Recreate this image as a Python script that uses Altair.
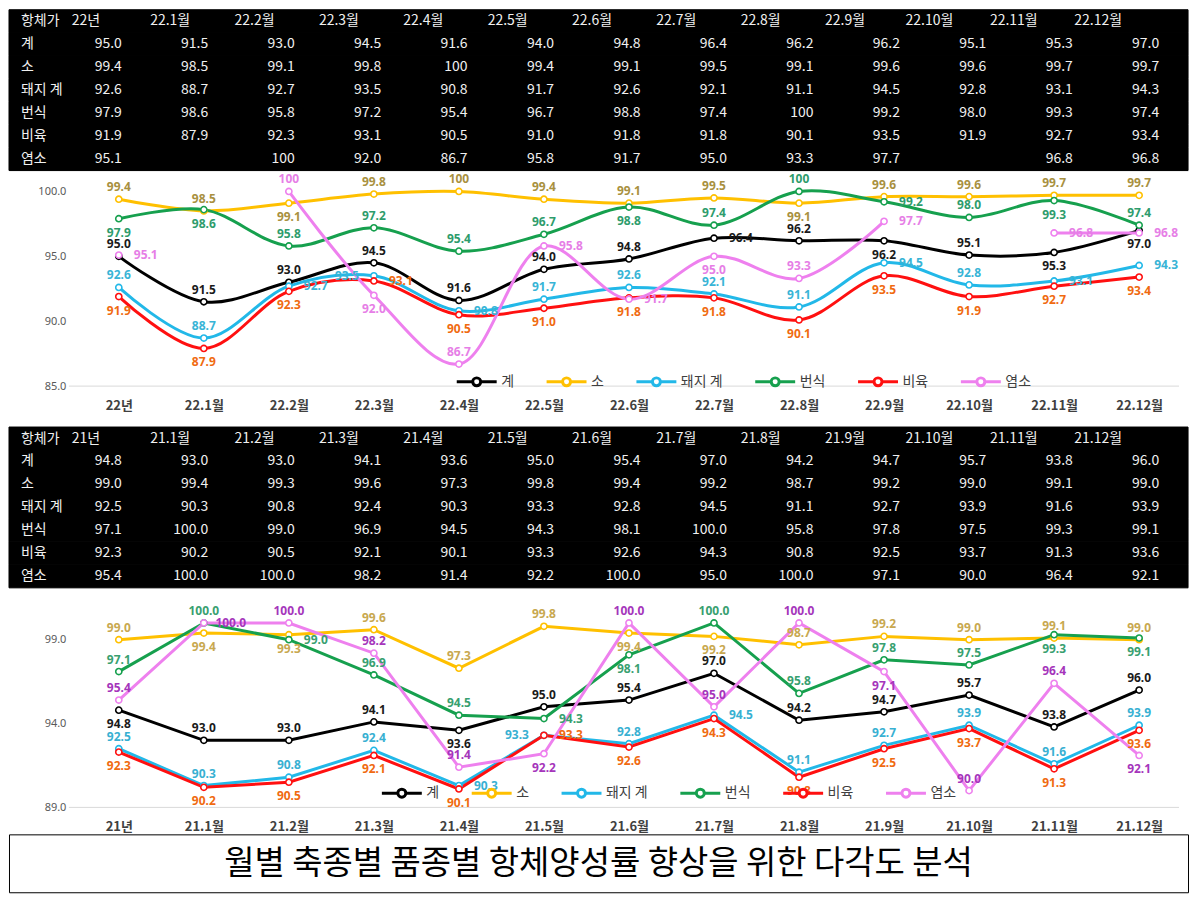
import altair as alt
import pandas as pd

KR = "Noto Sans CJK KR"

HEADER = "항체가"
SERIES = ["계", "소", "돼지 계", "번식", "비육", "염소"]

MONTHS_22 = ["22년", "22.1월", "22.2월", "22.3월", "22.4월", "22.5월", "22.6월",
             "22.7월", "22.8월", "22.9월", "22.10월", "22.11월", "22.12월"]
MONTHS_21 = ["21년", "21.1월", "21.2월", "21.3월", "21.4월", "21.5월", "21.6월",
             "21.7월", "21.8월", "21.9월", "21.10월", "21.11월", "21.12월"]

# 2022
TOTAL_22 = [95.0, 91.5, 93.0, 94.5, 91.6, 94.0, 94.8, 96.4, 96.2, 96.2, 95.1, 95.3, 97.0]
CATTLE_22 = [99.4, 98.5, 99.1, 99.8, 100, 99.4, 99.1, 99.5, 99.1, 99.6, 99.6, 99.7, 99.7]
PIG_22 = [92.6, 88.7, 92.7, 93.5, 90.8, 91.7, 92.6, 92.1, 91.1, 94.5, 92.8, 93.1, 94.3]
BREED_22 = [97.9, 98.6, 95.8, 97.2, 95.4, 96.7, 98.8, 97.4, 100, 99.2, 98.0, 99.3, 97.4]
FATTEN_22 = [91.9, 87.9, 92.3, 93.1, 90.5, 91.0, 91.8, 91.8, 90.1, 93.5, 91.9, 92.7, 93.4]
GOAT_22 = [95.1, None, 100, 92.0, 86.7, 95.8, 91.7, 95.0, 93.3, 97.7, None, 96.8, 96.8]

# 2021
TOTAL_21 = [94.8, 93.0, 93.0, 94.1, 93.6, 95.0, 95.4, 97.0, 94.2, 94.7, 95.7, 93.8, 96.0]
CATTLE_21 = [99.0, 99.4, 99.3, 99.6, 97.3, 99.8, 99.4, 99.2, 98.7, 99.2, 99.0, 99.1, 99.0]
PIG_21 = [92.5, 90.3, 90.8, 92.4, 90.3, 93.3, 92.8, 94.5, 91.1, 92.7, 93.9, 91.6, 93.9]
BREED_21 = [97.1, 100.0, 99.0, 96.9, 94.5, 94.3, 98.1, 100.0, 95.8, 97.8, 97.5, 99.3, 99.1]
FATTEN_21 = [92.3, 90.2, 90.5, 92.1, 90.1, 93.3, 92.6, 94.3, 90.8, 92.5, 93.7, 91.3, 93.6]
GOAT_21 = [95.4, 100.0, 100.0, 98.2, 91.4, 92.2, 100.0, 95.0, 100.0, 97.1, 90.0, 96.4, 92.1]

LINE_COLORS = ["#000000", "#ffc000", "#22b8e8", "#16a04e", "#ff1010", "#ee80ee"]
LABEL_COLORS_22 = ["#1a1a1a", "#a89040", "#38b4d6", "#2e9c6c", "#f06a10", "#e67ee6"]
LABEL_COLORS_21 = ["#1a1a1a", "#c8a850", "#38b0d2", "#38a070", "#f06a10", "#a535bb"]
# label placement: priority order and preferred side of each series
PRIORITY = ["계", "비육", "돼지 계", "소", "번식", "염소"]
PREFER_BELOW = ["비육"]

CAPTION = "월별 축종별 품종별 항체양성률 향상을 위한 다각도 분석"

W = 1181
OFFSETS = {"above": (0, -12), "below": (0, 14), "right": (27, 0), "left": (-27, 0)}


def long_df(months, cols, short100):
    rows = []
    for s, vals in zip(SERIES, cols):
        for i, (m, v) in enumerate(zip(months, vals)):
            if v is None:
                lab = ""
            elif short100 and v == 100:
                lab = "100"
            else:
                lab = f"{v:.1f}"
            rows.append({"series": s, "month": m, "i": i, "v": v, "label": lab})
    return pd.DataFrame(rows)


def place_labels(df, ydom, height):
    """Pick a side for each value label, keeping labels off each other and off markers."""
    d0, d1 = ydom

    def py(v):
        return height * (1 - (v - d0) / (d1 - d0))

    side = pd.Series("above", index=df.index)
    rank = {s: n for n, s in enumerate(PRIORITY)}
    for _, g in df.dropna(subset=["v"]).groupby("month"):
        g = g.assign(rk=g["series"].map(rank)).sort_values("rk")
        placed = []
        marks = {k: py(v) for k, v in g["v"].items()}
        for k, r in g.iterrows():
            p = marks[k]
            order = ["above", "below", "right", "left"]
            if r["series"] in PREFER_BELOW:
                order = ["below", "above", "right", "left"]
            chosen, best = None, 1e9
            for s in order:
                dx, dy = OFFSETS[s]
                cx, cy = dx, p + dy
                if cy < 6:
                    continue
                pen = 0.0
                for (ox, oy) in placed:
                    ovx, ovy = 28 - abs(cx - ox), 11 - abs(cy - oy)
                    if ovx > 0 and ovy > 0:
                        pen += ovx * ovy
                for kk, mk in marks.items():
                    if kk == k:
                        continue
                    ovx, ovy = 17 - abs(cx), 9 - abs(cy - mk)
                    if ovx > 0 and ovy > 0:
                        pen += ovx * ovy
                if pen <= 20:
                    chosen = (s, cx, cy)
                    break
                if pen < best:
                    best, chosen = pen, (s, cx, cy)
            side[k] = chosen[0]
            placed.append((chosen[1], chosen[2]))
    out = df.copy()
    out["side"] = side
    return out


def table(months, df, height):
    rows = [HEADER] + SERIES
    yenc = alt.Y("row:N", scale=alt.Scale(domain=rows, paddingInner=0, paddingOuter=0), axis=None)
    rdf = pd.DataFrame({"row": rows})
    bg = alt.Chart(rdf).mark_rect(color="black", stroke="black", strokeWidth=1).encode(
        y=yenc, x=alt.value(0), x2=alt.value(W))
    rowlab = alt.Chart(rdf).mark_text(align="left", font=KR, fontSize=14, color="#f0f0f0").encode(
        y=yenc, x=alt.value(12), text="row:N")
    hdf = pd.DataFrame({"row": [HEADER] * len(months), "month": months})
    head = alt.Chart(hdf).mark_text(align="center", font=KR, fontSize=14, color="#f0f0f0").encode(
        x=alt.X("month:N", sort=months,
                scale=alt.Scale(type="point", padding=0.988, align=0.461), axis=None),
        y=yenc, text="month:N")
    vdf = df.rename(columns={"series": "row"})
    vals = alt.Chart(vdf).mark_text(align="right", font=KR, fontSize=14, color="#f0f0f0").encode(
        x=alt.X("month:N", sort=months,
                scale=alt.Scale(type="point", padding=0.8186, align=0.797), axis=None),
        y=yenc, text="label:N")
    return alt.layer(bg, rowlab, head, vals).resolve_scale(x="independent").properties(
        width=W, height=height)


SYM = "M-1,0H-0.2 M0.2,0H1 M-0.2,0A0.2,0.2 0 1,1 0.2,0A0.2,0.2 0 1,1 -0.2,0"


def chart(months, df, ydom, yticks, height, interp, label_colors, lx, ly, spacer):
    df = place_labels(df, ydom, height)
    x = alt.X("month:N", sort=months,
              scale=alt.Scale(type="point", padding=0.933, align=0.692),
              axis=alt.Axis(labelAngle=0, ticks=False, domain=False, grid=False,
                            labelPadding=13, labelFontSize=13, labelFontWeight="bold",
                            labelColor="#404040", labelFont=KR,
                            title="\u00a0" if spacer else None,
                            titleFontSize=14, titlePadding=0, titleColor="white"))
    y = alt.Y("v:Q", scale=alt.Scale(domain=ydom, nice=False, zero=False),
              axis=alt.Axis(values=yticks, format=".1f", offset=-57, labelPadding=0,
                            ticks=False, domain=False, grid=False, labelFontSize=11,
                            labelColor="#595959", labelFont="Noto Sans", title=None))
    color = alt.Color("series:N", scale=alt.Scale(domain=SERIES, range=LINE_COLORS),
                      legend=alt.Legend(orient="none", legendX=lx, legendY=ly,
                                        direction="horizontal", title=None,
                                        symbolType=SYM, symbolSize=1600,
                                        symbolStrokeWidth=3, symbolFillColor="white",
                                        labelFontSize=14, labelFont=KR,
                                        labelColor="#404040", columnPadding=26,
                                        labelOffset=3, padding=0))
    stroke = alt.Stroke("series:N", scale=alt.Scale(domain=SERIES, range=LINE_COLORS),
                        legend=None)
    fill = alt.Fill("series:N", scale=alt.Scale(domain=SERIES, range=label_colors), legend=None)
    base = alt.Chart(df)
    rule = alt.Chart(pd.DataFrame({"v": [ydom[0]]})).mark_rule(
        color="#d9d9d9", strokeWidth=1).encode(y=y, x=alt.value(60), x2=alt.value(1172))
    lines = base.mark_line(interpolate=interp, strokeWidth=3).encode(
        x=x, y=y, color=color, order="i:Q")
    pts = base.mark_point(filled=False, fill="white", fillOpacity=1, opacity=1,
                          size=38, strokeWidth=1.6).encode(x=x, y=y, stroke=stroke)
    layers = [rule, lines, pts]
    for s, (dx, dy) in OFFSETS.items():
        layers.append(base.transform_filter(alt.datum.side == s).mark_text(
            dx=dx, dy=dy, fontWeight="bold", fontSize=12, font="Noto Sans").encode(
            x=x, y=y, text="label:N", fill=fill))
    return alt.layer(*layers).resolve_scale(
        stroke="independent", fill="independent").properties(
        width=W, height=height, view=alt.ViewBackground(stroke="transparent", strokeWidth=0))


df22 = long_df(MONTHS_22, [TOTAL_22, CATTLE_22, PIG_22, BREED_22, FATTEN_22, GOAT_22], True)
df21 = long_df(MONTHS_21, [TOTAL_21, CATTLE_21, PIG_21, BREED_21, FATTEN_21, GOAT_21], False)

t1 = table(MONTHS_22, df22, 161)
c1 = chart(MONTHS_22, df22, [85, 101.54], [85, 90, 95, 100], 215, "catmull-rom",
           LABEL_COLORS_22, 447, 189, True)
t2 = table(MONTHS_21, df21, 161)
c2 = chart(MONTHS_21, df21, [89, 102.04], [89, 94, 99], 219, "linear",
           LABEL_COLORS_21, 372, 183, False)
cap = alt.Chart(pd.DataFrame({"t": [CAPTION]})).mark_text(
    font=KR, fontSize=33, color="black").encode(
    text="t:N", x=alt.value(W / 2), y=alt.value(30)).properties(
    width=W, height=58, view=alt.ViewBackground(stroke="black", strokeWidth=1))

chart = alt.vconcat(t1, c1, t2, c2, cap, spacing=0).resolve_scale(
    x="independent", y="independent", color="independent", fill="independent",
    stroke="independent"
).resolve_legend(color="independent").properties(padding=0).configure_view(
    stroke="transparent", strokeWidth=0).configure(background="white")

chart.save("out.html", embed_options={"renderer": "svg", "actions": False})
